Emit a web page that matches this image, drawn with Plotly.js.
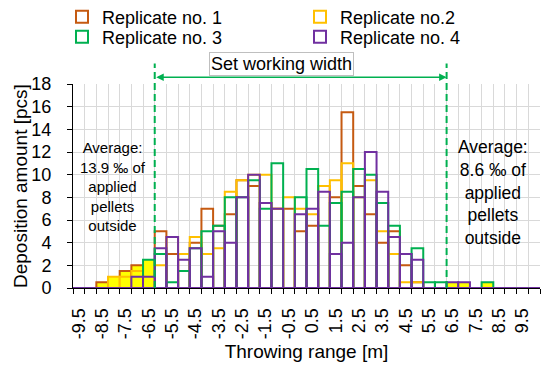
<!DOCTYPE html>
<html>
<head>
<meta charset="utf-8">
<script src="https://cdn.plot.ly/plotly-3.0.1.min.js"></script>
<style>html,body{margin:0;padding:0;background:#fff;}#chart{width:541px;height:376px;}</style>
</head>
<body>
<div id="chart"></div>
<script>
// Throwing range categories [m] (bar centres, 0.5 m bins)
const xVals = [-9.5,-9,-8.5,-8,-7.5,-7,-6.5,-6,-5.5,-5,-4.5,-4,-3.5,-3,-2.5,-2,-1.5,-1,-0.5,0,0.5,1,1.5,2,2.5,3,3.5,4,4.5,5,5.5,6,6.5,7,7.5,8,8.5,9,9.5,10];
// Deposition amount [pcs]
const rep1 = [0,0,0.5,0.5,1.5,2,2,5,3,3, 4,7,5.5,6.5,9.5,9,7.5,7,7,5, 5.5,9,8,15.5,9,6.5,4,5,2,0.5, 0,0,0,0,0,0,0,0,0,0];
const rep2 = [0,0,0,1,1,1.5,2,2,4.5,3, 4.5,3,3.5,8.5,9.5,10,10,7,8,7, 6.5,9,9.5,11,8,9.5,5,3,0.5,0.5, 0,0,0,0,0,0,0,0,0,0];
const rep3 = [0,0,0,0,0,0,2.5,3,0.5,1.5, 3.5,5,5.5,8,8,9.5,7,11,0,8, 10.5,5.5,7.5,8.5,10.5,10,7.5,5.5,3,3.5, 0.5,0.5,0,0,0,0.5,0,0,0,0];
const rep4 = [0,0,0,0,0,1,1,3.5,4.5,2.5, 3.5,1,5,4,8,10,7.5,7,0,6.5, 7,8.5,3,4,8,12,8.5,4.5,3,2.5, 0,0,0.5,0.5,0,0,0,0,0,0];
const seriesNames = ["Replicate no. 1","Replicate no.2","Replicate no. 3","Replicate no. 4"];
const seriesColors = ["#C55A11","#FFC000","#00B050","#7030A0"];
const tickLabels = ["-9.5","-8.5","-7.5","-6.5","-5.5","-4.5","-3.5","-2.5","-1.5","-0.5","0.5","1.5","2.5","3.5","4.5","5.5","6.5","7.5","8.5","9.5"];
const tickVals = [-9.5,-8.5,-7.5,-6.5,-5.5,-4.5,-3.5,-2.5,-1.5,-0.5,0.5,1.5,2.5,3.5,4.5,5.5,6.5,7.5,8.5,9.5];
const workingEdge = 6.25; // set working width boundary [m]
const yTitle = "Deposition amount [pcs]";
const xTitle = "Throwing range [m]";
const leftNote = "Average:<br>13.9 ‰ of<br>applied<br>pellets<br>outside";
const rightNote = "Average:<br>8.6 ‰ of<br>applied<br>pellets<br>outside";

const FONT = "Liberation Sans, Arial, sans-serif";
const allReps = [rep1, rep2, rep3, rep4];
const legendNames = ["legend","legend2","legend3","legend4"];

const traces = allReps.map((ys, k) => ({
  type: "bar",
  x: xVals,
  y: ys,
  width: 0.5,
  name: seriesNames[k],
  legend: legendNames[k],
  marker: {
    color: ys.map((v, i) => (Math.abs(xVals[i]) > workingEdge && v > 0) ? "#FFFF00" : "rgba(255,255,255,0)"),
    line: {color: seriesColors[k], width: 2}
  },
  hoverinfo: "skip"
}));

function legendAt(px, py) {
  return {x: px/541, y: 1 - py/376, xref: "container", yref: "container",
    xanchor: "left", yanchor: "middle", bgcolor: "rgba(0,0,0,0)", borderwidth: 0,
    font: {family: FONT, size: 18, color: "#000"}, itemwidth: 30};
}

const layout = {
  width: 541, height: 376,
  margin: {l: 73, r: 1, t: 84, b: 88, autoexpand: false},
  paper_bgcolor: "#fff", plot_bgcolor: "#fff",
  font: {family: FONT, size: 18, color: "#000"},
  barmode: "overlay",
  showlegend: true,
  legend: legendAt(62, 17),
  legend2: legendAt(300, 17),
  legend3: legendAt(62, 37),
  legend4: legendAt(300, 37),
  xaxis: {
    range: [-9.75, 10.25], fixedrange: true,
    tickmode: "array", tickvals: tickVals, ticktext: tickLabels,
    tickangle: -90, ticks: "", showgrid: false, zeroline: false,
    showline: true, linecolor: "#000", linewidth: 1,
    tickfont: {family: FONT, size: 18, color: "#000"},
    ticklabelstandoff: 12,
    minor: {tickmode: "linear", tick0: -9.75, dtick: 0.5, ticks: "outside", ticklen: 5,
            tickcolor: "#000", tickwidth: 1, showgrid: true, gridcolor: "#d9d9d9", gridwidth: 1},
    title: {text: xTitle, font: {family: FONT, size: 19, color: "#000"}}
  },
  yaxis: {
    range: [0, 18], dtick: 2, tick0: 0, fixedrange: true,
    ticks: "outside", ticklen: 5, tickcolor: "#000", tickwidth: 1,
    showgrid: true, gridcolor: "#d9d9d9", gridwidth: 1, zeroline: false,
    showline: true, linecolor: "#000", linewidth: 1,
    tickfont: {family: FONT, size: 18, color: "#000"},
    ticklabelstandoff: 12
  },
  shapes: [
    {type: "line", xref: "x", yref: "paper", x0: -workingEdge, x1: -workingEdge, y0: 0, y1: 1.10,
     line: {color: "#00B050", width: 2, dash: "7px,4px"}},
    {type: "line", xref: "x", yref: "paper", x0: workingEdge, x1: workingEdge, y0: 0, y1: 1.10,
     line: {color: "#00B050", width: 2, dash: "7px,4px"}}
  ],
  annotations: [
    {x: -53/467, y: 0.5, xref: "paper", yref: "paper", xanchor: "center", yanchor: "middle",
     text: yTitle, textangle: -90, showarrow: false,
     font: {family: FONT, size: 19, color: "#000"}},
    {x: workingEdge, y: 1.033, xref: "x", yref: "paper", ax: -workingEdge, ay: 0, axref: "x", ayref: "pixel",
     text: "", showarrow: true, arrowside: "end+start", arrowhead: 2, arrowsize: 1, arrowwidth: 1.5,
     arrowcolor: "#00B050", standoff: 0, startstandoff: 0},
    {x: -0.8, y: 1.097, xref: "x", yref: "paper", yanchor: "middle", xanchor: "center",
     text: "Set working width", showarrow: false,
     font: {family: FONT, size: 18, color: "#000"}, bgcolor: "#fff", bordercolor: "#bfbfbf",
     borderwidth: 1, borderpad: 1},
    {x: -8.05, y: 8.96, xref: "x", yref: "y", text: leftNote, showarrow: false,
     font: {family: FONT, size: 15, color: "#000"}, align: "center"},
    {x: 8.24, y: 8.41, xref: "x", yref: "y", text: rightNote, showarrow: false,
     font: {family: FONT, size: 17.5, color: "#000"}, align: "center"}
  ]
};

Plotly.newPlot("chart", traces, layout, {displayModeBar: false, staticPlot: true});
</script>
</body>
</html>
